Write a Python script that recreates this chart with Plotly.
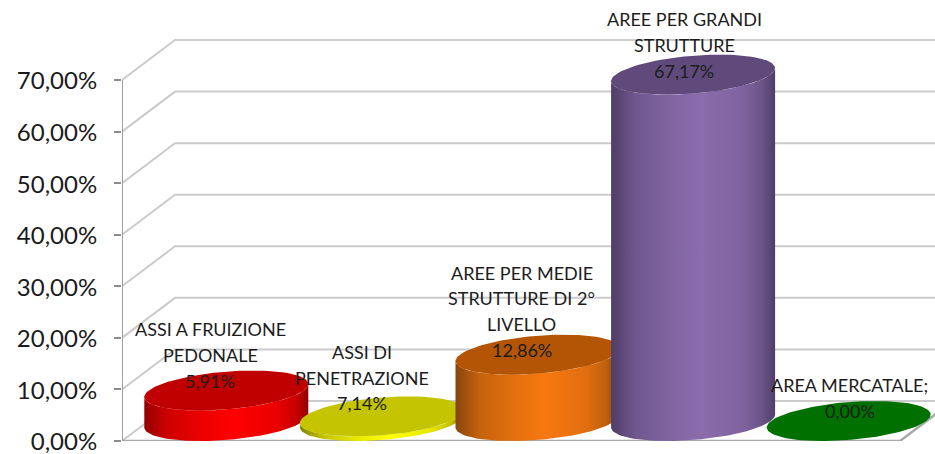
import numpy as np
import plotly.graph_objects as go

categories = ["ASSI A FRUIZIONE PEDONALE", "ASSI DI PENETRAZIONE", "AREE PER MEDIE STRUTTURE DI 2° LIVELLO", "AREE PER GRANDI STRUTTURE", "AREA MERCATALE"]
label_values = ["5,91%", "7,14%", "12,86%", "67,17%", "0,00%"]
drawn_heights = [5.91, 0.9, 12.86, 67.17, 0.0]
label_lines = [
    ["ASSI A FRUIZIONE", "PEDONALE"],
    ["ASSI DI", "PENETRAZIONE"],
    ["AREE PER MEDIE", "STRUTTURE DI 2°", "LIVELLO"],
    ["AREE PER GRANDI", "STRUTTURE"],
    ["AREA MERCATALE;"],
]
y_ticks = [0, 10, 20, 30, 40, 50, 60, 70]
y_tick_labels = ["0,00%", "10,00%", "20,00%", "30,00%", "40,00%", "50,00%", "60,00%", "70,00%"]
top_colors = ["#c00000", "#c4c400", "#b35505", "#604a7b", "#007000"]
edge_rgb = [(150, 0, 0), (130, 130, 0), (135, 70, 12), (79, 61, 104), (0, 80, 0)]
mid_rgb = [(255, 0, 0), (255, 255, 0), (247, 120, 16), (139, 108, 173), (0, 128, 0)]
grad_pos = [0, 0.08, 0.15, 0.35, 0.55, 0.8, 0.92, 1]
grad_mix = [0, 0.3, 0.55, 0.82, 1, 0.8, 0.5, 0]

PX_X = 155.6
PX_Y = 5.157
DX = 53 / PX_X
DY = 40 / PX_Y
A = 77.6 / PX_X
X_MAX = (935 - 122) / PX_X
Y_MAX = 441 / PX_Y

fig = go.Figure()

# walls: side-wall diagonals and back-wall gridlines
gx, gy = [], []
for v in y_ticks:
    gx += [0, DX, X_MAX + 1, None]
    gy += [v, v + DY, v + DY, None]
fig.add_trace(go.Scatter(x=gx, y=gy, mode="lines", line=dict(color="#cbcbcb", width=2), hoverinfo="skip", showlegend=False))
# floor front edge and right edge
fig.add_trace(go.Scatter(x=[0, 5, 5 + DX], y=[0, 0, DY], mode="lines", line=dict(color="#a8a8a8", width=2.5),
                         hoverinfo="skip", showlegend=False, cliponaxis=False))
# value axis line, ending at the top tick
fig.add_trace(go.Scatter(x=[0, 0], y=[0, y_ticks[-1]], mode="lines", line=dict(color="#a0a0a0", width=2),
                         hoverinfo="skip", showlegend=False, cliponaxis=False))

t0 = np.arctan2(DX / 2, A)


def ellipse(i, h, t):
    cx = i + 0.5 + DX / 2
    return cx + A * np.cos(t) + DX / 2 * np.sin(t), h + DY / 2 + DY / 2 * np.sin(t)


def scale(i):
    out = []
    for p, m in zip(grad_pos, grad_mix):
        c = [round(e + (v - e) * m) for e, v in zip(edge_rgb[i], mid_rgb[i])]
        out.append([p, f"rgb({c[0]},{c[1]},{c[2]})"])
    return out


for i, h in enumerate(drawn_heights):
    if h > 0:
        t = np.linspace(t0, t0 - np.pi, 80)
        bx, by = ellipse(i, 0, t)
        ux, uy = ellipse(i, h, t[::-1])
        fig.add_trace(go.Scatter(
            x=np.r_[bx, ux], y=np.r_[by, uy], mode="lines", fill="toself",
            line=dict(width=0, color="rgba(0,0,0,0)"),
            fillgradient=dict(type="horizontal", colorscale=scale(i)),
            hoverinfo="skip", showlegend=False, cliponaxis=False))
    t = np.linspace(0, 2 * np.pi, 120)
    ex, ey = ellipse(i, h, t)
    fig.add_trace(go.Scatter(x=ex, y=ey, mode="lines", fill="toself", fillcolor=top_colors[i],
                             line=dict(width=0, color=top_colors[i]), hoverinfo="skip", showlegend=False, cliponaxis=False))

# data labels: (x shift, y of the last line in px above the top centre)
label_anchor = [(-16, 10), (-20, 13), (-16, 5), (-9, 4), (1, 10)]
annotations = []
LINE = 25.6
for i, h in enumerate(drawn_heights):
    lines = label_lines[i] + [label_values[i]]
    xs, ys = label_anchor[i]
    for k, line in enumerate(lines):
        annotations.append(dict(
            x=i + 0.5 + DX / 2, y=h + DY / 2, xref="x", yref="y", text=line, showarrow=False,
            xshift=xs, yshift=ys + (len(lines) - 1 - k) * LINE,
            font=dict(family="Lato, Carlito, sans-serif", size=18, color="#1c1c1c")))

fig.update_layout(
    width=935, height=454, autosize=False,
    margin=dict(l=122, r=0, t=0, b=13, pad=0, autoexpand=False),
    paper_bgcolor="white", plot_bgcolor="white", showlegend=False,
    annotations=annotations,
    xaxis=dict(range=[0, X_MAX], visible=False, fixedrange=True),
    yaxis=dict(range=[0, Y_MAX], tickmode="array", tickvals=y_ticks, ticktext=y_tick_labels,
               showgrid=False, zeroline=False, showline=False,
               ticks="outside", ticklen=7, tickwidth=2, tickcolor="#8c8c8c", fixedrange=True,
               ticklabeloverflow="allow", ticklabelstandoff=12, ticklabelshift=1,
               tickfont=dict(family="Lato, Carlito, sans-serif", size=24, color="#1a1a1a")),
)
fig.write_html("out.html", config=dict(displayModeBar=False),
               post_script="document.body.style.margin='0';document.body.style.overflow='hidden';")
